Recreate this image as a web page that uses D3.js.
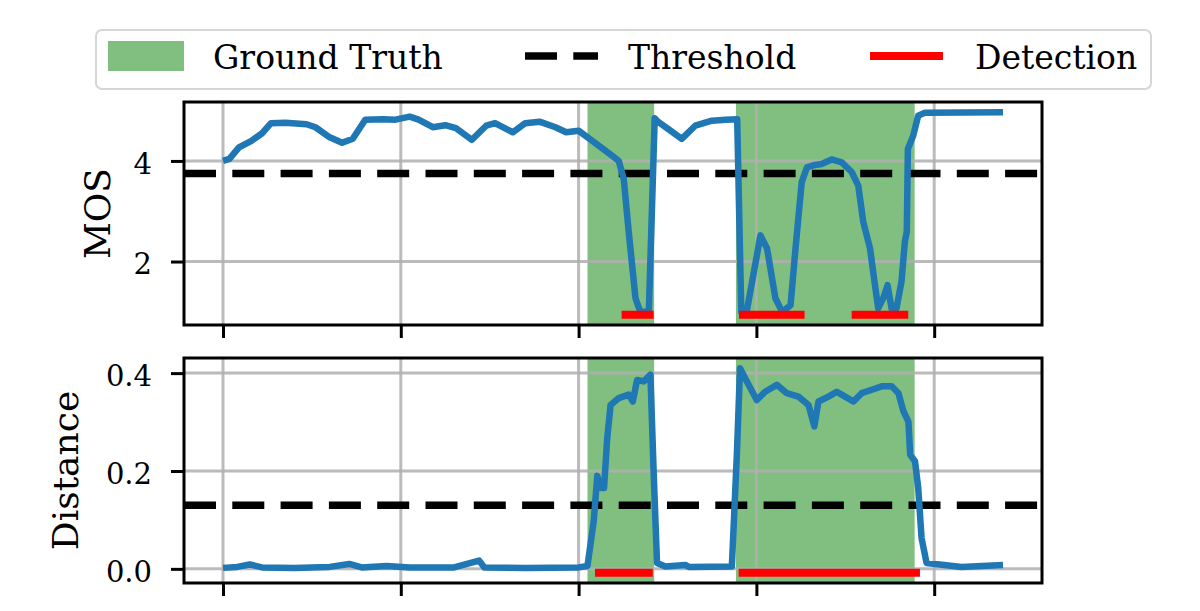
<!DOCTYPE html>
<html>
<head>
<meta charset="utf-8">
<script src="https://cdn.jsdelivr.net/npm/d3@7"></script>
<style>
  html, body { margin: 0; padding: 0; background: #fff; }
  svg { display: block; }
  text { font-family: "DejaVu Serif", serif; fill: #000; }
</style>
</head>
<body>
<svg id="chart" width="1200" height="611"></svg>
<script>
// ---------------- DATA ----------------
const mosFrame = [0,3.6,9,16,22,27,35,47,52,60,67,73,80,90,97,105,110,118,125,131,140,148,153,163,170,178,187,193,200,207,213,219,222.6,225.4,228.2,232,234.7,239.5,242.8,245,250.6,258,265.6,275,282.5,289.2,291.5,294.5,297.6,302.3,306,310.7,314.5,319.2,322,325.5,328.4,333,336.7,342.3,348,353.6,357.3,360.1,363.9,366.7,368.5,371.3,373.8,376,378.8,381.6,383.5,384.6,385.2,388.2,391,394.8,438.7];
const mosValue = [4.00,4.04,4.27,4.40,4.55,4.75,4.76,4.73,4.67,4.47,4.36,4.44,4.82,4.83,4.82,4.88,4.82,4.67,4.71,4.65,4.42,4.70,4.75,4.57,4.75,4.78,4.67,4.57,4.60,4.42,4.26,4.10,4.00,3.64,2.59,1.27,1.00,1.00,4.85,4.77,4.63,4.44,4.70,4.80,4.82,4.83,1.00,1.00,1.60,2.52,2.26,1.27,1.00,1.13,2.26,3.58,3.87,3.92,3.94,4.03,3.97,3.78,3.51,2.79,2.26,1.53,1.07,1.27,1.53,1.07,1.07,1.60,2.39,2.60,4.24,4.50,4.90,4.96,4.97];

const distFrame = [0,8,15,22,40,60,71,78,92,105,130,144,147,170,200,205,208.5,210.5,212.4,214.3,216.1,218,222.6,228.2,230.5,232.9,236.6,240.4,242.2,244.1,248.8,260,262,286.2,289,290.8,293.6,300.2,304.9,311.5,317.1,323.6,329.3,332.6,334.9,340.5,345.2,349.9,354.6,359.2,364.9,370.5,376.1,379.9,382.7,385.5,386.5,389.2,391,392.9,395.7,415.3,438.7];
const distValue = [0.002,0.004,0.009,0.003,0.002,0.004,0.010,0.003,0.006,0.003,0.003,0.017,0.003,0.002,0.003,0.006,0.097,0.190,0.165,0.165,0.267,0.335,0.349,0.356,0.342,0.386,0.383,0.397,0.199,0.012,0.005,0.008,0.004,0.005,0.233,0.410,0.390,0.345,0.362,0.376,0.359,0.352,0.335,0.291,0.342,0.352,0.362,0.352,0.342,0.359,0.366,0.373,0.373,0.359,0.322,0.301,0.233,0.220,0.166,0.063,0.012,0.004,0.008];

const gtStart = [205, 288.5];
const gtEnd   = [242.5, 389];

const detMosStart = [224.2, 290.2, 353.6];
const detMosEnd   = [242.2, 327.1, 385.4];
const detMosLevel = 0.94;

const detDistStart = [209.2, 290.0];
const detDistEnd   = [241.7, 392.0];
const detDistLevel = -0.008;

const mosThreshold = 3.75;
const distThreshold = 0.13;

const xTicks = [0, 100, 200, 300, 400];
const mosTicks = [2, 4];
const mosTickLabels = ["2", "4"];
const distTicks = [0.0, 0.2, 0.4];
const distTickLabels = ["0.0", "0.2", "0.4"];

const legendLabels = ["Ground Truth", "Threshold", "Detection"];

// ---------------- STYLE / LAYOUT ----------------
const C = { blue: "#1f77b4", green: "#80bf80", red: "#ff0000", grid: "#b0b0b0" };
const plotLeft = 184, plotRight = 1042;
const panels = [
  { top: 102, bottom: 325, frames: mosFrame, values: mosValue, thr: mosThreshold,
    detS: detMosStart, detE: detMosEnd, detY: detMosLevel,
    ticks: mosTicks, tickLabels: mosTickLabels, label: "MOS", labelX: 110 },
  { top: 358, bottom: 583, frames: distFrame, values: distValue, thr: distThreshold,
    detS: detDistStart, detE: detDistEnd, detY: detDistLevel,
    ticks: distTicks, tickLabels: distTickLabels, label: "Distance", labelX: 78 }
];

function padded(lo, hi) { const m = (hi - lo) * 0.05; return [lo - m, hi + m]; }

const allFrames = mosFrame.concat(distFrame, detMosStart, detMosEnd, detDistStart, detDistEnd);
const x = d3.scaleLinear()
  .domain(padded(d3.min(allFrames), d3.max(allFrames)))
  .range([plotLeft, plotRight]);

const svg = d3.select("#chart");

panels.forEach((p, i) => {
  const vals = p.values.concat([p.detY]);
  const y = d3.scaleLinear()
    .domain(padded(d3.min(vals), d3.max(vals)))
    .range([p.bottom, p.top]);

  const g = svg.append("g");
  const clipId = "clip" + i;
  g.append("clipPath").attr("id", clipId).append("rect")
    .attr("x", plotLeft).attr("y", p.top)
    .attr("width", plotRight - plotLeft).attr("height", p.bottom - p.top);
  const inner = g.append("g").attr("clip-path", `url(#${clipId})`);

  // ground-truth spans
  inner.selectAll("rect.gt").data(gtStart.map((s, k) => [s, gtEnd[k]])).join("rect")
    .attr("class", "gt")
    .attr("x", d => x(d[0])).attr("width", d => x(d[1]) - x(d[0]))
    .attr("y", p.top).attr("height", p.bottom - p.top)
    .attr("fill", C.green);

  // grid
  inner.selectAll("line.vg").data(xTicks).join("line")
    .attr("x1", d => x(d)).attr("x2", d => x(d))
    .attr("y1", p.top).attr("y2", p.bottom)
    .attr("stroke", C.grid).attr("stroke-width", 3).attr("opacity", 0.85);
  inner.selectAll("line.hg").data(p.ticks).join("line")
    .attr("x1", plotLeft).attr("x2", plotRight)
    .attr("y1", d => y(d)).attr("y2", d => y(d))
    .attr("stroke", C.grid).attr("stroke-width", 3).attr("opacity", 0.85);

  // threshold
  inner.append("line")
    .attr("x1", plotLeft).attr("x2", plotRight)
    .attr("y1", y(p.thr)).attr("y2", y(p.thr))
    .attr("stroke", "#000").attr("stroke-width", 7.5)
    .attr("stroke-dasharray", "32,16.3");

  // series line
  const line = d3.line().x((d, k) => x(p.frames[k])).y(d => y(d));
  inner.append("path").datum(p.values)
    .attr("d", line).attr("fill", "none")
    .attr("stroke", C.blue).attr("stroke-width", 6.5)
    .attr("stroke-linejoin", "round").attr("stroke-linecap", "butt");

  // detections
  inner.selectAll("line.det").data(p.detS.map((s, k) => [s, p.detE[k]])).join("line")
    .attr("x1", d => x(d[0])).attr("x2", d => x(d[1]))
    .attr("y1", y(p.detY)).attr("y2", y(p.detY))
    .attr("stroke", C.red).attr("stroke-width", 8);

  // axes
  const yAxis = d3.axisLeft(y).tickValues(p.ticks)
    .tickFormat((d, k) => p.tickLabels[k]).tickSize(13).tickPadding(19);
  const ya = g.append("g").attr("transform", `translate(${plotLeft},0)`).call(yAxis);
  ya.select(".domain").remove();
  ya.selectAll(".tick line").attr("stroke", "#000").attr("stroke-width", 3);
  ya.selectAll(".tick text").attr("font-family", "DejaVu Serif")
    .attr("font-size", 29).attr("dy", "0.42em");

  const xAxis = d3.axisBottom(x).tickValues(xTicks).tickFormat("").tickSize(13);
  const xa = g.append("g").attr("transform", `translate(0,${p.bottom})`).call(xAxis);
  xa.select(".domain").remove();
  xa.selectAll(".tick line").attr("stroke", "#000").attr("stroke-width", 3);

  // frame
  g.append("rect").attr("x", plotLeft).attr("y", p.top)
    .attr("width", plotRight - plotLeft).attr("height", p.bottom - p.top)
    .attr("fill", "none").attr("stroke", "#000").attr("stroke-width", 3);

  // y label
  g.append("text")
    .attr("transform", `translate(${p.labelX},${(p.top + p.bottom) / 2}) rotate(-90)`)
    .attr("text-anchor", "middle").attr("font-size", 36)
    .text(p.label);
});

// ---------------- LEGEND ----------------
const lg = svg.append("g");
lg.append("rect").attr("x", 96).attr("y", 30).attr("width", 1055).attr("height", 59)
  .attr("rx", 6).attr("fill", "#fff").attr("stroke", "#d6d6d6").attr("stroke-width", 2);
lg.append("rect").attr("x", 108).attr("y", 41).attr("width", 76).attr("height", 30)
  .attr("fill", C.green);
lg.append("line").attr("x1", 525).attr("x2", 598).attr("y1", 56).attr("y2", 56)
  .attr("stroke", "#000").attr("stroke-width", 7.5).attr("stroke-dasharray", "32,16.3");
lg.append("line").attr("x1", 870).attr("x2", 943).attr("y1", 56).attr("y2", 56)
  .attr("stroke", C.red).attr("stroke-width", 8);
const legendX = [213, 628, 975];
lg.selectAll("text.lt").data(legendLabels).join("text")
  .attr("x", (d, k) => legendX[k]).attr("y", 69)
  .attr("font-size", 33).text(d => d);
</script>
</body>
</html>
